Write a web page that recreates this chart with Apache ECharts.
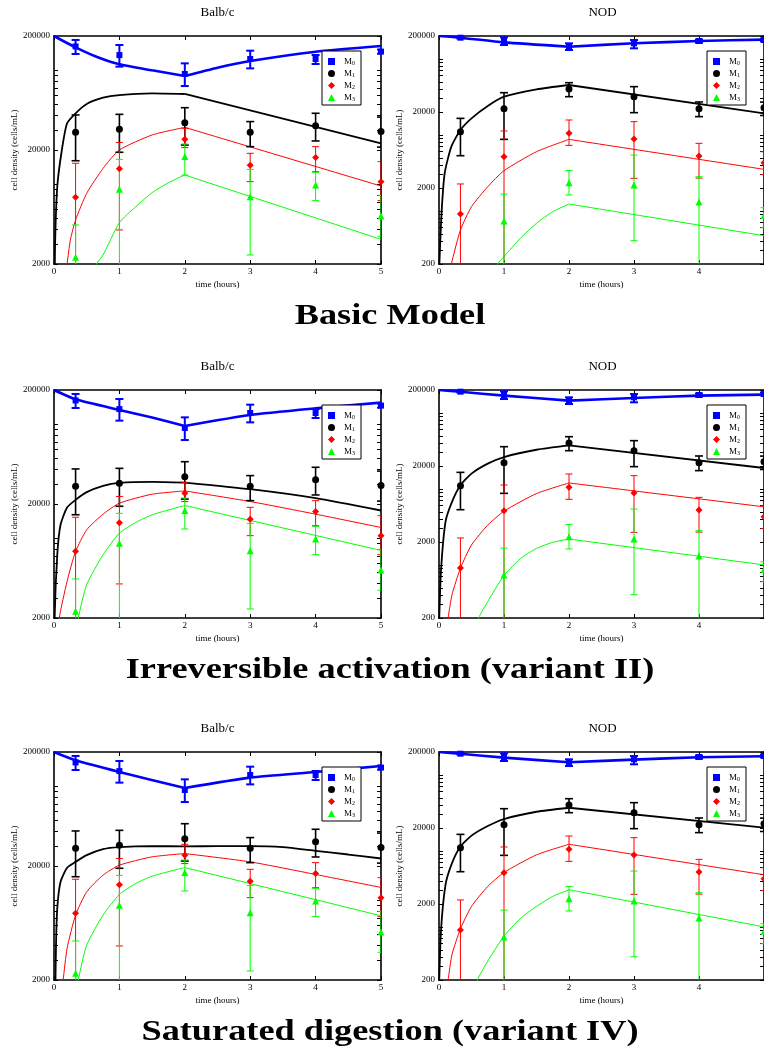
<!DOCTYPE html>
<html><head><meta charset="utf-8">
<script src="https://cdn.jsdelivr.net/npm/echarts@6/dist/echarts.min.js"></script>
<style>html,body{margin:0;padding:0;background:#fff}#c{width:764px;height:1050px}</style>
</head><body><div id="c"></div>
<script>
// ---------- measured data (same experiments in every row) ----------
const times = [0.33, 1, 2, 3, 4, 5];

const balbM0   = [162000, 136000, 92800, 125700, 125700, 146000];
const balbM0Hi = [184600, 166800, 115100, 148700, 136200, 152000];
const balbM0Lo = [139000, 107700, 72800, 104000, 113600, 140000];
const balbM1   = [28600, 30400, 34750, 28600, 32700, 29000];
const balbM1Hi = [40600, 41100, 47000, 35500, 42000, 38900];
const balbM1Lo = [16100, 19100, 22100, 21400, 24000, 21200];
const balbM2   = [7690, 13700, 24800, 14700, 17150, 10550];
const balbM2Hi = [15300, 23300, 31000, 18700, 21400, 15800];
const balbM2Lo = [1000, 3980, 21000, 10550, 12900, 7200];
const balbM3   = [2290, 9030, 17500, 7790, 9860, 5270];
const balbM3Hi = [4400, 16560, 22600, 13520, 12740, 8000];
const balbM3Lo = [1000, 1000, 12070, 2400, 7190, 3500];

const nodM0   = [190000, 171900, 144700, 160200, 171900, 177000];
const nodM0Hi = [195000, 192100, 160200, 177000, 180000, 185000];
const nodM0Lo = [185000, 152200, 130900, 137700, 163000, 170000];
const nodM1   = [11020, 22100, 40200, 31800, 22100, 22800];
const nodM1Hi = [16500, 35900, 48600, 43100, 27100, 27000];
const nodM1Lo = [5320, 8730, 31800, 19600, 17380, 18000];
const nodM2   = [910, 5170, 10480, 8830, 5280, 4300];
const nodM2Hi = [2260, 11250, 15700, 14920, 7740, 6000];
const nodM2Lo = [100, 100, 7280, 2680, 2700, 3000];
const nodM3   = [null, 736, 2350, 2190, 1310, 870];
const nodM3Hi = [null, 1660, 3410, 5430, 2820, 1100];
const nodM3Lo = [null, 100, 1620, 405, 100, 600];

// ---------- model curves [time, density] ----------
const basicBalbFitM0 = [[0,200000],[0.33,158900],[0.67,130000],[1,112800],[1.5,100000],[2,89100],[2.5,105500],[3,120700],[4,145700],[5,163400]];
const basicBalbFitM1 = [[0,300],[0.015,2650],[0.05,9530],[0.12,20000],[0.2,34300],[0.33,42000],[0.5,50700],[0.75,57500],[1,60700],[1.5,62800],[2,62000],[5,22900]];
const basicBalbFitM2 = [[0.15,1200],[0.2,2000],[0.25,3250],[0.33,4860],[0.5,8340],[0.75,13800],[1,20000],[1.5,27100],[2,31600],[5,9660]];
const basicBalbFitM3 = [[0.6,1500],[0.65,2000],[0.75,2400],[1,4610],[1.25,6370],[1.5,8450],[1.75,10330],[2,12070],[5,3290]];

const basicNodFitM0 = [[0,200000],[0.33,190000],[1,165000],[2,144700],[3,160200],[4,171900],[5,179000]];
const basicNodFitM1 = [[0,150],[0.036,840],[0.087,3120],[0.19,7000],[0.33,11590],[0.5,16500],[0.75,24000],[1,31800],[1.5,39700],[2,45300],[5,19200]];
const basicNodFitM2 = [[0.15,130],[0.19,200],[0.33,560],[0.5,1135],[0.75,2080],[1,3380],[1.5,6010],[2,8730],[5,3520]];
const basicNodFitM3 = [[0.85,150],[0.9,200],[1,250],[1.25,435],[1.5,686],[1.75,977],[2,1230],[5,472]];

const irrevBalbFitM0 = [[0,200000],[0.33,165700],[1,133600],[1.5,114600],[2,96800],[3,120800],[4,138100],[5,155000]];
const irrevBalbFitM1 = [[0,300],[0.01,2000],[0.05,7180],[0.1,13150],[0.2,18630],[0.33,21750],[0.5,25400],[0.75,28850],[1,30650],[1.5,31280],[2,30850],[3,26960],[4,22500],[5,17540]];
const irrevBalbFitM2 = [[0.05,1200],[0.08,2000],[0.2,4190],[0.33,7670],[0.5,11880],[0.75,16290],[1,20330],[1.5,24380],[2,26060],[3,21030],[4,16290],[5,12450]];
const irrevBalbFitM3 = [[0.33,1500],[0.37,2000],[0.5,3920],[0.75,7180],[1,11110],[1.25,13770],[1.5,16080],[2,19410],[5,7830]];

const irrevNodFitM0 = [[0,200000],[0.33,190000],[1,168500],[2,144900],[3,157200],[4,168500],[5,173700]];
const irrevNodFitM1 = [[0,150],[0.03,817],[0.1,3690],[0.2,6750],[0.33,11160],[0.5,15880],[0.75,21470],[1,26240],[1.5,32730],[2,37320],[5,18830]];
const irrevNodFitM2 = [[0.1,120],[0.14,200],[0.2,405],[0.33,904],[0.5,1830],[0.75,3340],[1,5090],[1.5,8680],[2,11970],[5,5810]];
const irrevNodFitM3 = [[0.55,130],[0.61,200],[0.75,330],[1,725],[1.25,1200],[1.5,1650],[1.75,1980],[2,2190],[5,1000]];

const satBalbFitM0 = [[0,200000],[0.33,169000],[1,133600],[2,96800],[3,119200],[4,133600],[5,150700]];
const satBalbFitM1 = [[0,300],[0.03,3790],[0.05,8490],[0.1,14530],[0.2,19290],[0.33,21740],[0.5,24880],[0.75,28080],[1,29250],[1.5,29850],[2,29700],[2.5,29850],[3,29850],[3.5,29250],[4,27160],[4.5,25220],[5,23270]];
const satBalbFitM2 = [[0.1,1300],[0.14,2000],[0.2,3790],[0.33,7420],[0.5,11880],[0.75,16630],[1,20330],[1.5,24050],[2,25720],[3,21740],[4,16860],[5,12970]];
const satBalbFitM3 = [[0.33,1500],[0.37,2000],[0.5,4050],[0.75,7420],[1,11250],[1.25,14050],[1.5,16290],[2,19400],[5,7320]];

const satNodFitM0 = [[0,200000],[0.33,190000],[1,168500],[2,146400],[3,158700],[4,170300],[5,175500]];
const satNodFitM1 = [[0,150],[0.03,877],[0.1,3580],[0.2,6890],[0.33,11390],[0.5,15880],[0.75,21250],[1,26240],[1.5,32730],[2,36930],[5,20190]];
const satNodFitM2 = [[0.1,120],[0.14,200],[0.2,434],[0.33,940],[0.5,1860],[0.75,3410],[1,5200],[1.5,8860],[2,12220],[5,4850]];
const satNodFitM3 = [[0.53,130],[0.59,200],[0.75,355],[1,754],[1.25,1285],[1.5,1860],[1.75,2520],[2,3080],[5,1000]];

// time at which the dosing phase ends (curves have a corner there)
const switchTime = 2;

// ---------- ticks and texts ----------
const balbYLabels = [2000, 20000, 200000];
const nodYLabels = [200, 2000, 20000, 200000];
const balbYTicks = [2000,3000,4000,5000,6000,7000,8000,9000,10000,20000,30000,40000,50000,60000,70000,80000,90000,100000,200000];
const nodYTicks = [200,300,400,500,600,700,800,900,1000,2000,3000,4000,5000,6000,7000,8000,9000,10000,20000,30000,40000,50000,60000,70000,80000,90000,100000,200000];
const seriesNames = ['M0', 'M1', 'M2', 'M3'];
const strainTitles = ['Balb/c', 'NOD'];
const captions = ['Basic Model', 'Irreversible activation (variant II)', 'Saturated digestion (variant IV)'];

// ---------- layout / style ----------
const SERIF = 'Liberation Serif';
const colors = ['#0000ff', '#000000', '#ff0000', '#00ff00'];
const symbols = ['rect', 'circle', 'diamond', 'triangle'];
const symbolSizes = [6, 7, 7, 7];
const lineWidths = [2.6, 1.8, 1, 1];
const errWidths = [2, 1.6, 1, 1];
const capHalf = [4, 4, 3.5, 3.5];
const rowTops = [36, 390, 752];
const colLefts = [54, 439];
const plotW = 327, plotH = 228;

const measured = [
  [[balbM0, balbM0Lo, balbM0Hi], [balbM1, balbM1Lo, balbM1Hi], [balbM2, balbM2Lo, balbM2Hi], [balbM3, balbM3Lo, balbM3Hi]],
  [[nodM0, nodM0Lo, nodM0Hi], [nodM1, nodM1Lo, nodM1Hi], [nodM2, nodM2Lo, nodM2Hi], [nodM3, nodM3Lo, nodM3Hi]]
];
const fits = [
  [[basicBalbFitM0, basicBalbFitM1, basicBalbFitM2, basicBalbFitM3], [basicNodFitM0, basicNodFitM1, basicNodFitM2, basicNodFitM3]],
  [[irrevBalbFitM0, irrevBalbFitM1, irrevBalbFitM2, irrevBalbFitM3], [irrevNodFitM0, irrevNodFitM1, irrevNodFitM2, irrevNodFitM3]],
  [[satBalbFitM0, satBalbFitM1, satBalbFitM2, satBalbFitM3], [satNodFitM0, satNodFitM1, satNodFitM2, satNodFitM3]]
];

function errRenderer(k) {
  return function (params, api) {
    const x = api.value(0), lo = api.value(1), hi = api.value(2);
    const p1 = api.coord([x, hi]), p2 = api.coord([x, lo]);
    const st = { stroke: colors[k], lineWidth: errWidths[k] };
    const c = capHalf[k];
    return { type: 'group', children: [
      { type: 'line', shape: { x1: p1[0], y1: p1[1], x2: p2[0], y2: p2[1] }, style: st },
      { type: 'line', shape: { x1: p1[0] - c, y1: p1[1], x2: p1[0] + c, y2: p1[1] }, style: st },
      { type: 'line', shape: { x1: p2[0] - c, y1: p2[1], x2: p2[0] + c, y2: p2[1] }, style: st }
    ]};
  };
}

const grid = [], xAxis = [], yAxis = [], series = [], legend = [], graphic = [];
const axisLineStyle = { show: true, onZero: false, lineStyle: { color: '#000', width: 1.6 } };
const tickStyle = { color: '#000', width: 1 };
const labelFont = { fontFamily: SERIF, fontSize: 9, color: '#000' };

for (let r = 0; r < 3; r++) {
  for (let c = 0; c < 2; c++) {
    const gi = grid.length;
    const isNod = c === 1;
    grid.push({ left: colLefts[c], top: rowTops[r], width: plotW, height: plotH, containLabel: false });
    xAxis.push({
      type: 'value', gridIndex: gi, min: 0, max: 5, interval: 1, position: 'bottom',
      axisLine: axisLineStyle, axisTick: { show: true, inside: true, length: 4, lineStyle: tickStyle },
      axisLabel: Object.assign({ show: true, margin: 3, showMaxLabel: !isNod }, labelFont),
      splitLine: { show: false },
      name: 'time (hours)', nameLocation: 'middle', nameGap: 16, nameTextStyle: labelFont
    });
    xAxis.push({
      type: 'value', gridIndex: gi, min: 0, max: 5, interval: 1, position: 'top',
      axisLine: axisLineStyle, axisTick: { show: true, inside: true, length: 4, lineStyle: tickStyle },
      axisLabel: { show: false }, splitLine: { show: false }
    });
    const yBase = {
      type: 'log', logBase: 10, gridIndex: gi, min: isNod ? 200 : 2000, max: 200000,
      axisLine: axisLineStyle,
      axisTick: { show: true, inside: true, length: 4, customValues: isNod ? nodYTicks : balbYTicks, lineStyle: tickStyle },
      splitLine: { show: false }, minorTick: { show: false }
    };
    yAxis.push(Object.assign({}, yBase, {
      position: 'left',
      axisLabel: Object.assign({ show: true, margin: 4, customValues: isNod ? nodYLabels : balbYLabels, formatter: v => String(v) }, labelFont),
      name: 'cell density (cells/mL)', nameLocation: 'middle', nameGap: 35, nameRotate: 90, nameTextStyle: labelFont
    }));
    yAxis.push(Object.assign({}, yBase, { position: 'right', axisLabel: { show: false } }));

    const xi = 2 * gi, yi = 2 * gi;
    const meas = measured[c];
    for (let k = 0; k < 4; k++) {
      const f = fits[r][c][k];
      const parts = [f.filter(p => p[0] <= switchTime), f.filter(p => p[0] >= switchTime)];
      parts.forEach((part, pi) => {
        series.push({
          type: 'line', name: 'fit' + k + '_' + pi, xAxisIndex: xi, yAxisIndex: yi,
          data: part, showSymbol: false, symbol: 'none', clip: true, z: 2,
          smooth: 0.2,
          lineStyle: { color: colors[k], width: lineWidths[k] }, silent: true
        });
      });
    }
    for (let k = 0; k < 4; k++) {
      const [v, lo, hi] = meas[k];
      const ed = [];
      times.forEach((t, i) => { if (v[i] != null) ed.push([t, lo[i], hi[i]]); });
      series.push({
        type: 'custom', name: 'err' + k, xAxisIndex: xi, yAxisIndex: yi, clip: true, z: 3,
        renderItem: errRenderer(k), data: ed, silent: true
      });
    }
    for (let k = 0; k < 4; k++) {
      const v = meas[k][0];
      const sd = [];
      times.forEach((t, i) => { if (v[i] != null) sd.push([t, v[i]]); });
      series.push({
        type: 'scatter', name: seriesNames[k], xAxisIndex: xi, yAxisIndex: yi, clip: false, z: 4,
        symbol: symbols[k], symbolSize: symbolSizes[k], data: sd,
        itemStyle: { color: colors[k], opacity: 1 }, silent: true
      });
    }
    legend.push({
      orient: 'vertical', left: colLefts[c] + 268, top: rowTops[r] + 15,
      padding: [4, 6, 3, 6], itemWidth: 7, itemHeight: 7, itemGap: 1,
      borderColor: '#000', borderWidth: 1, backgroundColor: '#fff', borderRadius: 0,
      selectedMode: false,
      data: seriesNames.map((n, k) => ({ name: n, icon: symbols[k] })),
      formatter: n => '{m|M}{s|' + n.slice(1) + '}',
      textStyle: { color: '#000', fontFamily: SERIF, fontSize: 9,
        rich: { m: { fontFamily: SERIF, fontSize: 9, lineHeight: 9, verticalAlign: 'top', padding: [0, 0, 0, 4], color: '#000' },
                s: { fontFamily: SERIF, fontSize: 6, lineHeight: 6, padding: [5, 0, 0, 0], verticalAlign: 'bottom', color: '#000' } } }
    });
    graphic.push({
      type: 'text', x: colLefts[c] + plotW / 2, y: rowTops[r] - 23,
      style: { text: strainTitles[c], font: '13px "Liberation Serif"', fill: '#000', textAlign: 'center', textVerticalAlign: 'middle' }
    });
  }
  graphic.push({
    type: 'text', x: 390, y: rowTops[r] + 280, scaleX: 1.21, scaleY: 1,
    style: { text: captions[r], font: 'bold 30px "Liberation Serif"', fill: '#000', textAlign: 'center', textVerticalAlign: 'middle' }
  });
}

const chart = echarts.init(document.getElementById('c'), null, { renderer: 'canvas' });
chart.setOption({ animation: false, backgroundColor: '#fff', grid, xAxis, yAxis, series, legend, graphic });
</script></body></html>
